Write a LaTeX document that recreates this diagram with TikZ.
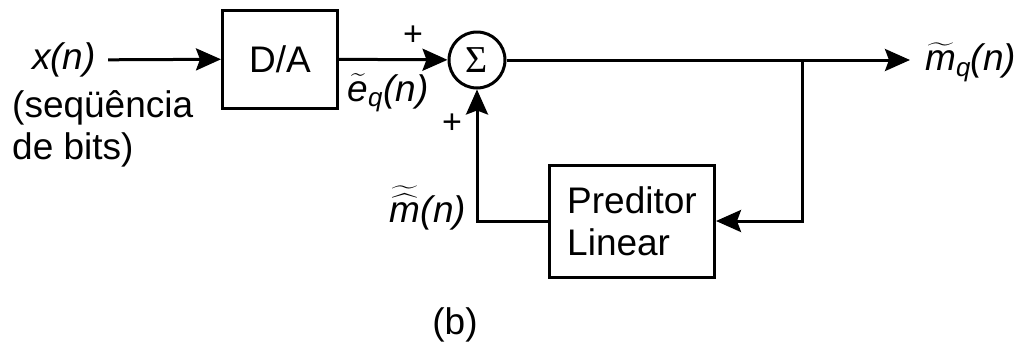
\RequirePackage{fix-cm}
\documentclass[tikz,border=0pt]{standalone}
\usepackage{amsmath}
\usepackage{fontspec}
\setmainfont{Liberation Sans}
\newfontfamily\sumfont{Liberation Serif}
\usetikzlibrary{arrows.meta, positioning, calc}

\begin{document}
\begin{tikzpicture}[
    x=1pt, y=-1pt,
    font=\fontsize{37}{42}\selectfont,
    block/.style={draw, line width=3pt, inner sep=0pt, align=left},
    summer/.style={draw, circle, line width=3pt, minimum size=56pt, inner sep=0pt, font=\sumfont\fontsize{38}{38}\selectfont},
    arrow/.style={-{Stealth[length=25pt, width=22pt, inset=4pt]}, line width=3pt},
    sign/.style={inner sep=0pt, font=\fontsize{34}{34}\selectfont},
]
    \useasboundingbox (0,0) rectangle (1025,349);

    % Blocks
    \node[block, minimum width=115pt, minimum height=98pt] (da) at (280, 59) {D/A};
    \node[summer] (sum) at (477, 60) {Σ};
    \node[block, minimum width=165pt, minimum height=112pt] (pred) at (632, 221) {Preditor\\Linear};

    % Signals
    \node[inner sep=12pt] (xn) at (64, 60) {\textit{x(n)}};
    \node[align=left, inner sep=0pt, anchor=north west] (bits) at (12, 90) {(seqüência\\de bits)};
    \node[inner sep=0pt] (eq) at (388, 93) {$\widetilde{\textit{e}}_{\textit{q}}\textit{(n)}$};
    \node[inner sep=0pt] (mhat) at (428, 208) {$\widetilde{\widehat{\textit{m}}}\textit{(n)}$};
    \node[inner sep=0pt, anchor=west] (mout) at (925, 62) {$\widetilde{\textit{m}}_{\textit{q}}\textit{(n)}$};
    \coordinate (branch) at (802, 60);

    % Signs at the summer
    \node[sign] (p1) at (413, 36) {+};
    \node[sign] (p2) at (452, 124) {+};

    % Connections
    \draw[arrow] (xn) -- (da);
    \draw[arrow] (da) -- (sum);
    \draw[arrow] (sum) -- ($(mout.west)+(-15,-2)$);
    \draw[arrow] (branch) |- (pred);
    \draw[arrow] (pred.west) -| (sum.south);

    % Caption
    \node[inner sep=0pt] (cap) at (455, 325) {(b)};
\end{tikzpicture}
\end{document}
